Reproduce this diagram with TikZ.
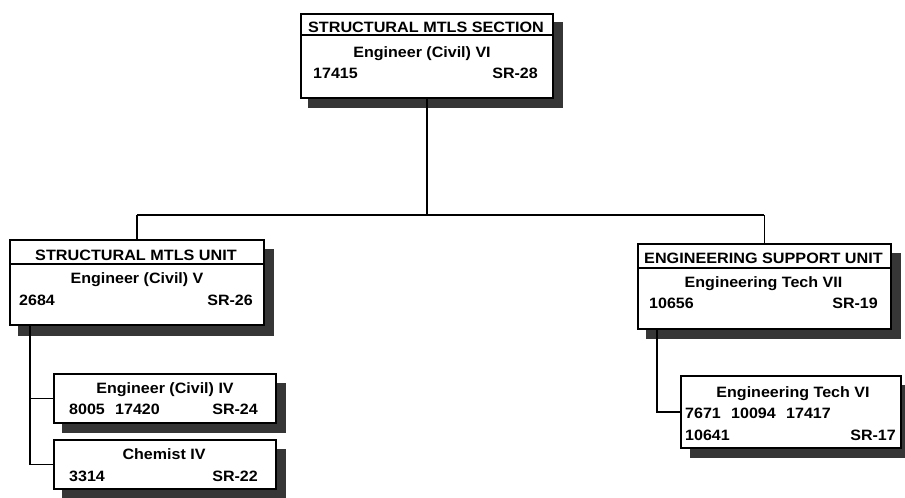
\documentclass[tikz,border=0pt]{standalone}
\usepackage{fontspec}
\setmainfont{Liberation Sans}
\newfontfamily\bodyfam{Liberation Sans}[FakeStretch=1.07]
\newfontfamily\titlefam{Liberation Sans}[FakeStretch=1.08]
\definecolor{shadowgray}{HTML}{363636}
\newcommand{\bodyf}{\fontsize{15}{18}\selectfont\bodyfam\bfseries}
\newcommand{\titlef}{\fontsize{15}{18}\selectfont\titlefam\bfseries}
\begin{document}
\begin{tikzpicture}[x=1pt,y=-1pt,
  orgbox/.style={draw=black, line width=1.7pt, fill=white, anchor=north west, inner sep=0pt},
  shade/.style={fill=shadowgray},
  conn/.style={draw=black, line width=1.7pt},
  ctxt/.style={font=\bodyf, inner sep=0pt, anchor=base},
  ltxt/.style={font=\bodyf, inner sep=0pt, anchor=base west},
  rtxt/.style={font=\bodyf, inner sep=0pt, anchor=base east},
  ttxt/.style={font=\titlef, inner sep=0pt, anchor=base}]
\useasboundingbox[fill=white] (0,0) rectangle (905,498);
% top box
\fill[shade] (308,22) rectangle (563,108);
\node[orgbox, minimum width=252pt, minimum height=84pt] (top) at (300,13) {};
\draw[line width=1.4pt] (top.west |- 0,35) -- (top.east |- 0,35);
\node[ttxt] (topt) at (426,32) {STRUCTURAL MTLS SECTION};
\node[ctxt] (top2) at (422,57) {Engineer (Civil) VI};
\node[ltxt] (top3) at (313,78) {17415};
\node[rtxt] (top4) at (538,78) {SR-28};
% left unit
\fill[shade] (18,249) rectangle (274,336);
\node[orgbox, minimum width=254pt, minimum height=85pt] (lunit) at (9,239) {};
\draw[line width=1.4pt] (lunit.west |- 0,264) -- (lunit.east |- 0,264);
\node[ttxt] (lut) at (136,260) {STRUCTURAL MTLS UNIT};
\node[ctxt] (lu2) at (137,283) {Engineer (Civil) V};
\node[ltxt] (lu3) at (19,305) {2684};
\node[rtxt] (lu4) at (253,305) {SR-26};
% right unit
\fill[shade] (646,253) rectangle (901,339);
\node[orgbox, minimum width=253pt, minimum height=85pt] (runit) at (637,243) {};
\draw[line width=1.4pt] (runit.west |- 0,268) -- (runit.east |- 0,268);
\node[ttxt] (rut) at (763.5,263) {ENGINEERING SUPPORT UNIT};
\node[ctxt] (ru2) at (763.5,287) {Engineering Tech VII};
\node[ltxt] (ru3) at (649,308) {10656};
\node[rtxt] (ru4) at (878,308) {SR-19};
% engineer civil IV
\fill[shade] (62,383) rectangle (286,433);
\node[orgbox, minimum width=222pt, minimum height=49pt] (civ4) at (53,373) {};
\node[ctxt] (c41) at (165,393) {Engineer (Civil) IV};
\node[ltxt] (c42) at (69,414) {8005};
\node[ltxt] (c43) at (115,414) {17420};
\node[rtxt] (c44) at (258,414) {SR-24};
% chemist IV
\fill[shade] (62,449) rectangle (286,499);
\node[orgbox, minimum width=222pt, minimum height=49pt] (chem) at (53,439) {};
\node[ctxt] (ch1) at (164,459) {Chemist IV};
\node[ltxt] (ch2) at (69,481) {3314};
\node[rtxt] (ch3) at (258,481) {SR-22};
% engineering tech VI
\fill[shade] (690,385) rectangle (906,458);
\node[orgbox, minimum width=220pt, minimum height=72pt] (tech6) at (680,375) {};
\node[ctxt] (t61) at (793,397) {Engineering Tech VI};
\node[ltxt] (t62) at (685,418) {7671};
\node[ltxt] (t63) at (731,418) {10094};
\node[ltxt] (t64) at (786,418) {17417};
\node[ltxt] (t65) at (685,440) {10641};
\node[rtxt] (t66) at (896,440) {SR-17};
% connectors
\coordinate (hb) at (0,215);
\coordinate (lb) at (30,0);
\coordinate (rb) at (657,0);
\draw[conn] (top.south) -- (top.south |- hb);
\draw[conn] (lunit.north |- hb) -- (runit.north |- hb);
\draw[conn] (lunit.north |- hb) -- (lunit.north);
\draw[conn] (runit.north |- hb) -- (runit.north);
\draw[conn] (lb |- lunit.south) -- (lb |- chem.west) -- (chem.west);
\draw[conn] (lb |- civ4.west) -- (civ4.west);
\draw[conn] (rb |- runit.south) -- (rb |- tech6.west) -- (tech6.west);
\end{tikzpicture}
\end{document}
